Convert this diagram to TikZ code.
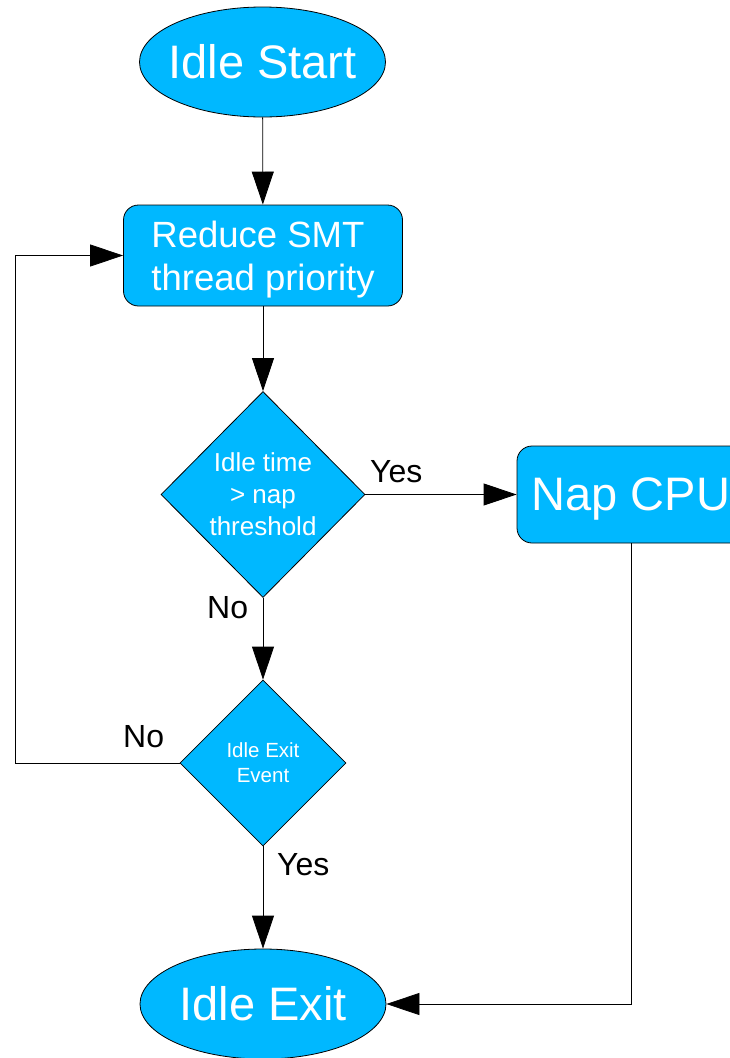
\documentclass[tikz,border=0pt]{standalone}
\usepackage{fontspec}
\setmainfont{Liberation Sans}
\usetikzlibrary{shapes.geometric,arrows.meta}
\definecolor{boxblue}{RGB}{0,184,255}
\begin{document}
\begin{tikzpicture}[x=1pt,y=-1pt,
  shapebase/.style={draw=black, line width=0.8pt, fill=boxblue, text=white, inner sep=0pt},
  terminal/.style={shapebase, ellipse, inner xsep=-8pt, minimum width=246pt, minimum height=110pt, font=\fontsize{47}{54}\selectfont},
  process/.style={shapebase, rectangle, rounded corners=15pt},
  decision/.style={shapebase, diamond, aspect=1},
  conn/.style={line width=0.8pt, draw=black},
  arr/.style={conn, -{Triangle[length=33pt,width=22pt]}},
  lbl/.style={font=\fontsize{32}{38}\selectfont, anchor=base west, inner sep=0pt}]
\clip (0,0) rectangle (730,1058);
\node[terminal] (start) at (262.5,62) {Idle Start};
\node[process, minimum width=279pt, minimum height=101pt, align=left, text depth=0pt, font=\fontsize{36.5}{43}\selectfont] (reduce) at (263,255.5) {Reduce SMT\\thread priority};
\node[decision, minimum width=204pt, minimum height=206pt, align=center, font=\fontsize{26}{32}\selectfont] (d1) at (263,494.5) {Idle time\\> nap\\threshold};
\node[decision, minimum width=166pt, minimum height=166pt, align=center, font=\fontsize{20.5}{25}\selectfont] (d2) at (263,763) {Idle Exit\\Event};
\node[process, minimum width=228pt, minimum height=97pt, text depth=0pt, font=\fontsize{47}{54}\selectfont] (nap) at (631,494.5) {Nap CPU};
\node[terminal] (exit) at (263,1004) {Idle Exit};
\coordinate (loopA) at (15,763);
\coordinate (loopB) at (15,255.5);
\coordinate (napturn) at (631,1004);
\draw[arr] (start) -- (reduce);
\draw[arr] (reduce) -- (d1);
\draw[arr] (d1) -- (nap);
\draw[arr] (d1) -- (d2);
\draw[arr] (d2) -- (exit);
\draw[arr] (d2.west) -- (loopA) -- (loopB) -- (reduce.west);
\draw[arr] (nap.south) -- (napturn) -- (exit.east);
\node[lbl] (yes1) at (370,482) {Yes};
\node[lbl] (no1) at (207,618) {No};
\node[lbl] (no2) at (123,747) {No};
\node[lbl] (yes2) at (277,875) {Yes};
\end{tikzpicture}
\end{document}
